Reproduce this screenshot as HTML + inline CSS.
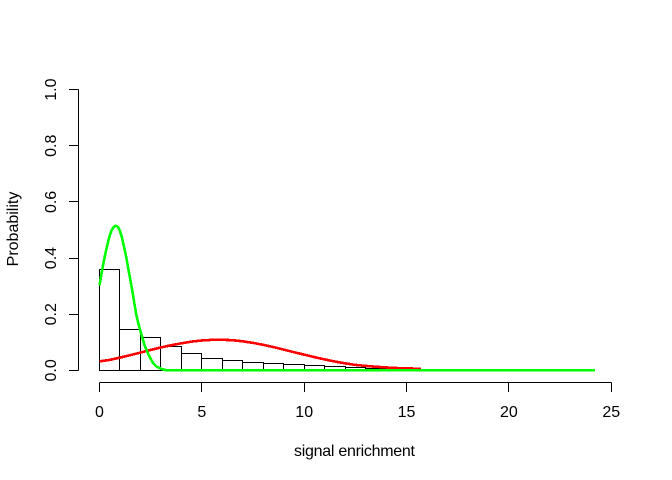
<!DOCTYPE html>
<html>
<head>
<meta charset="utf-8">
<title>Signal enrichment histogram</title>
<style>
html,body{margin:0;padding:0;background:#fff;}
svg{display:block;}
text{font-family:"Liberation Sans",Arial,sans-serif;font-size:16px;fill:#000;}
</style>
</head>
<body>
<svg id="chart" xmlns="http://www.w3.org/2000/svg" width="672" height="480" viewBox="0 0 672 480"></svg>
<script>
const xTicks = [0, 5, 10, 15, 20, 25];
const yTicks = [0, 0.2, 0.4, 0.6, 0.8, 1];
const yTickLabels = ["0.0", "0.2", "0.4", "0.6", "0.8", "1.0"];
const xAxisTitle = "signal enrichment";
const yAxisTitle = "Probability";
const binEdges = [0,1,2,3,4,5,6,7,8,9,10,11,12,13,14,15,16,17,18,19,20,21,22,23,24,25];
const binValues = [0.36,0.146,0.118,0.085,0.06,0.043,0.036,0.029,0.025,0.021,0.018,0.014,0.011,0.007,0.003,0.001,0.001,0.0008,0.0005,0.0005,0.0003,0.0003,0.0002,0.0002,0.0001];
const redX = [0,0.5,1,1.5,2,2.5,3,3.5,4,4.5,5,5.5,6,6.5,7,7.5,8,8.5,9,9.5,10,10.5,11,11.5,12,12.5,13,13.5,14,14.5,15,15.7];
const redY = [0.032,0.0375,0.0455,0.0543,0.0635,0.0728,0.0819,0.0895,0.0965,0.1025,0.1065,0.1088,0.109,0.1075,0.1035,0.098,0.091,0.083,0.074,0.0648,0.0561,0.0473,0.039,0.0316,0.0251,0.0196,0.016,0.013,0.0105,0.0085,0.007,0.006];
const greenX = [0,0.1,0.2,0.3,0.4,0.5,0.6,0.7,0.8,0.9,1,1.1,1.2,1.3,1.4,1.5,1.6,1.7,1.8,1.9,2,2.1,2.2,2.4,2.6,2.8,3,3.2,3.4,24.2];
const greenY = [0.303,0.345,0.385,0.42,0.452,0.48,0.5,0.511,0.515,0.511,0.497,0.472,0.44,0.405,0.365,0.325,0.285,0.24,0.197,0.167,0.14,0.115,0.09,0.055,0.028,0.013,0.006,0.0015,0,0];

const NS = "http://www.w3.org/2000/svg";
const svg = document.getElementById("chart");
function sx(v){ return 99.5 + v * 20.47; }
function sy(v){ return 370.4 - v * 280.8; }
function make(tag, attrs, parent){
  const el = document.createElementNS(NS, tag);
  for (const k in attrs) el.setAttribute(k, attrs[k]);
  (parent || svg).appendChild(el);
  return el;
}
function px(v){ return Math.round(v - 0.5) + 0.5; }
const lineStyle = {stroke:"#000","stroke-width":1,fill:"none","shape-rendering":"crispEdges"};

const bars = make("g", lineStyle);


binValues.forEach(function(v, i){
  const x0 = px(sx(binEdges[i])), x1 = px(sx(binEdges[i + 1]));
  const y0 = px(sy(0)), y1 = px(sy(v));
  const bar = make("rect", {x:x0, y:y1, width:x1 - x0, height:y0 - y1}, bars);
  
  
});

function curvePoints(xs, ys){
  return xs.map(function(x, i){ return sx(x).toFixed(2) + "," + sy(ys[i]).toFixed(2); }).join(" ");
}
const redCurve = make("polyline", {points:curvePoints(redX, redY), fill:"none", stroke:"#ff0000", "stroke-width":2.6, "shape-rendering":"crispEdges"});


const greenCurve = make("polyline", {points:curvePoints(greenX, greenY), fill:"none", stroke:"#00ff00", "stroke-width":2.6, "shape-rendering":"crispEdges"});



const xAxis = make("g", lineStyle);


make("line", {x1:px(sx(xTicks[0])), x2:px(sx(xTicks[xTicks.length - 1])), y1:382.5, y2:382.5}, xAxis);
xTicks.forEach(function(t){
  const tick = make("line", {x1:px(sx(t)), x2:px(sx(t)), y1:382.5, y2:392}, xAxis);
  
  
  const label = make("text", {x:sx(t), y:417, "text-anchor":"middle"});
  label.textContent = String(t);
  
  
});

const yAxis = make("g", lineStyle);


make("line", {x1:78.5, x2:78.5, y1:px(sy(yTicks[0])), y2:px(sy(yTicks[yTicks.length - 1]))}, yAxis);
yTicks.forEach(function(t, i){
  const tick = make("line", {x1:69, x2:78.5, y1:px(sy(t)), y2:px(sy(t))}, yAxis);
  
  
  const label = make("text", {"text-anchor":"middle", transform:"translate(56 " + sy(t) + ") rotate(-90)"});
  label.textContent = yTickLabels[i];
  
  
});

const xTitle = make("text", {x:354.5, y:456, "text-anchor":"middle", textLength:121, lengthAdjust:"spacing"});
xTitle.textContent = xAxisTitle;


const yTitle = make("text", {"text-anchor":"middle", transform:"translate(18 229) rotate(-90)"});
yTitle.textContent = yAxisTitle;


</script>
</body>
</html>
